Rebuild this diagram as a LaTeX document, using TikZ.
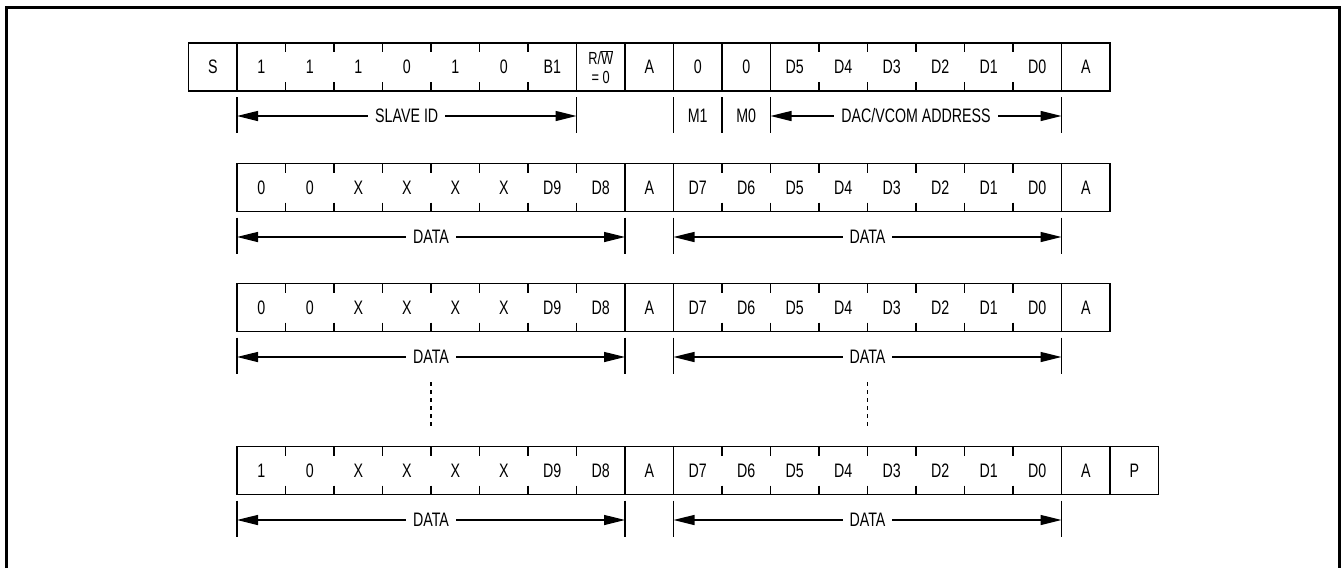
\documentclass[tikz,border=0pt]{standalone}
\usepackage{fontspec}
\setmainfont{Liberation Sans}[FakeStretch=0.73]
\usetikzlibrary{arrows.meta}
\tikzset{
  cell/.style={inner sep=0pt, minimum width=48.5pt, minimum height=48pt, font=\fontsize{19.5}{21}\selectfont},
  boxline/.style={line width=1.4pt, line cap=rect},
  tickline/.style={line width=1.3pt},
  dimline/.style={line width=1.2pt},
  dimarrow/.style={line width=1.3pt, {Triangle[length=21pt,width=10pt]}-{Triangle[length=21pt,width=10pt]}},
  dimlabel/.style={fill=white, inner xsep=7pt, inner ysep=1pt, font=\fontsize{19.5}{21}\selectfont},
  dotline/.style={line width=1.5pt, dash pattern=on 4pt off 4pt},
  frame/.style={line width=2.2pt}
}
\begin{document}
\begin{tikzpicture}[x=1pt,y=-1pt]
\useasboundingbox (0,0) rectangle (1341,568);
\draw[frame] (6.5,568) -- (6.5,7.5) -- (1339.5,7.5) -- (1339.5,568);
\def\xo{188.5}
\def\w{48.5}
% ---------- Row 1 ----------
\foreach \lab [count=\i from 0] in {S,1,1,1,0,1,0,B1,,A,0,0,D5,D4,D3,D2,D1,D0,A}
  \node[cell] (ra\i) at ({\xo+\w*(\i+0.5)},67) {\lab};
\node[cell, align=center, font=\fontsize{17.5}{19}\selectfont] (rarw) at ({\xo+\w*8.5},67) {R/$\overline{\hbox{W}}$\\= 0};
\draw[boxline] (\xo,43) rectangle ({\xo+\w*19},91);
\foreach \k in {1,8,9,10,11,12,18}
  \draw[boxline] ({\xo+\w*\k},43) -- ({\xo+\w*\k},91);
\foreach \k in {2,...,7,13,14,...,17}{
  \draw[tickline] ({\xo+\w*\k},43) -- ({\xo+\w*\k},52);
  \draw[tickline] ({\xo+\w*\k},82) -- ({\xo+\w*\k},91);
}
\foreach \k/\n in {1/a,8/b,10/c,11/d,12/e,18/f}{
  \coordinate (da\n t) at ({\xo+\w*\k},97);
  \coordinate (da\n b) at ({\xo+\w*\k},133);
  \coordinate (da\n m) at ({\xo+\w*\k},116);
  \draw[dimline] (da\n t) -- (da\n b);
}
\draw[dimarrow] (daam) -- node[dimlabel] (lslave) {SLAVE ID} (dabm);
\node[cell, minimum height=36pt] (lm1) at ({\xo+\w*10.5},115.5) {M1};
\node[cell, minimum height=36pt] (lm0) at ({\xo+\w*11.5},115.5) {M0};
\draw[dimarrow] (daem) -- node[dimlabel] (ldac) {DAC/VCOM ADDRESS} (dafm);
% ---------- Data rows ----------
\foreach \r/\top/\first/\last in {b/163.5/0/19, c/283.5/0/19, d/446.5/1/20}{
  \pgfmathsetmacro{\bot}{\top+48}
  \pgfmathsetmacro{\mid}{\top+24}
  \foreach \lab [count=\i from 1] in {\first,0,X,X,X,X,D9,D8,A,D7,D6,D5,D4,D3,D2,D1,D0,A}
    \node[cell] (r\r\i) at ({\xo+\w*(\i+0.5)},\mid) {\lab};
  \draw[boxline] ({\xo+\w},\top) rectangle ({\xo+\w*\last},\bot);
  \foreach \k in {9,10,18,19}
    \draw[boxline] ({\xo+\w*\k},\top) -- ({\xo+\w*\k},\bot);
  \foreach \k in {2,...,8,11,12,...,17}{
    \draw[tickline] ({\xo+\w*\k},\top) -- ({\xo+\w*\k},\top+9);
    \draw[tickline] ({\xo+\w*\k},\bot-9) -- ({\xo+\w*\k},\bot);
  }
  \foreach \k/\n in {1/a,9/b,10/c,18/d}{
    \coordinate (d\r\n t) at ({\xo+\w*\k},\bot+6);
    \coordinate (d\r\n b) at ({\xo+\w*\k},\bot+42);
    \coordinate (d\r\n m) at ({\xo+\w*\k},\bot+25.5);
    \draw[dimline] (d\r\n t) -- (d\r\n b);
  }
  \draw[dimarrow] (d\r am) -- node[dimlabel] {DATA} (d\r bm);
  \draw[dimarrow] (d\r cm) -- node[dimlabel] {DATA} (d\r dm);
}
\node[cell] (rdP) at ({\xo+\w*19.5},470.5) {P};
% dotted continuation
\coordinate (dot1a) at ({\xo+\w*5},382);
\coordinate (dot1b) at ({\xo+\w*5},426);
\coordinate (dot2a) at ({\xo+\w*14},382);
\coordinate (dot2b) at ({\xo+\w*14},426);
\draw[dotline] (dot1a) -- (dot1b);
\draw[dotline] (dot2a) -- (dot2b);
\end{tikzpicture}
\end{document}
